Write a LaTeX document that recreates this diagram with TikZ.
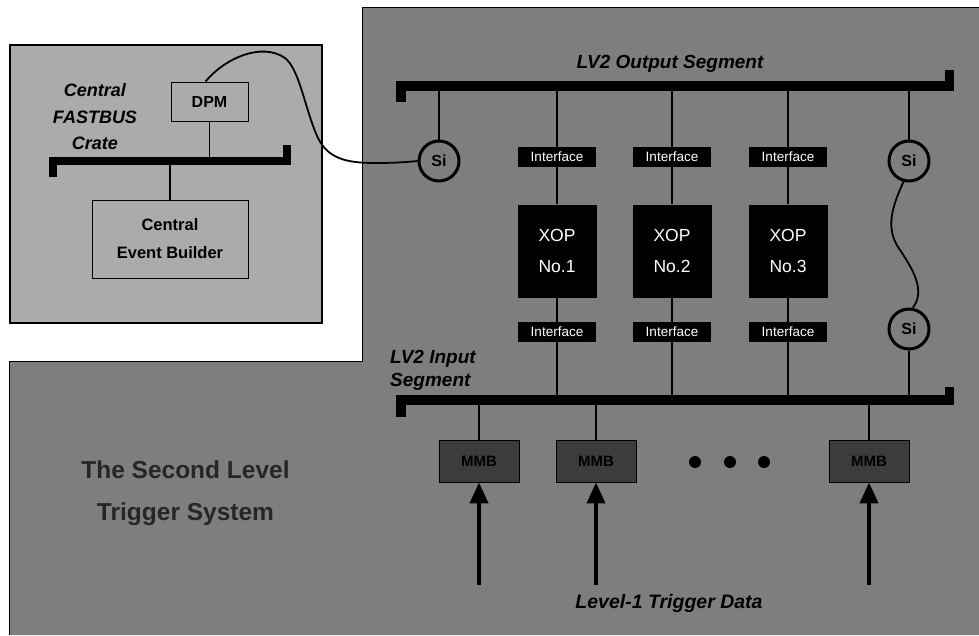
\documentclass[tikz,border=0pt]{standalone}
\usepackage{fontspec}
\setmainfont{Liberation Sans}
\usetikzlibrary{arrows.meta,calc}
\definecolor{maingrey}{HTML}{7E7E7E}
\definecolor{insetgrey}{HTML}{ABABAB}
\definecolor{mmbgrey}{HTML}{3C3C3C}
\begin{document}
\begin{tikzpicture}[x=1pt,y=-1pt,
  busbar/.style={line width=9.5pt, line join=miter},
  cbusbar/.style={line width=8pt, line join=miter},
  wire/.style={line width=1.8pt},
  ifbox/.style={fill=black, text=white, minimum width=78pt, minimum height=20pt, inner sep=0pt, font=\fontsize{13.5}{13.5}\selectfont},
  xopbox/.style={fill=black, text=white, minimum width=79pt, minimum height=93pt, inner sep=0pt, align=center, font=\fontsize{17.5}{31}\selectfont},
  sinode/.style={circle, draw=black, line width=3pt, minimum size=40pt, inner sep=0pt, font=\bfseries\fontsize{16}{16}\selectfont},
  mmbbox/.style={fill=mmbgrey, draw=black, line width=0.8pt, minimum width=80pt, minimum height=42pt, inner sep=0pt, font=\bfseries\fontsize{15}{15}\selectfont, text=black},
  inbox/.style={draw=black, line width=1pt, fill=insetgrey, inner sep=0pt, align=center},
  bigital/.style={font=\bfseries\itshape\fontsize{19}{25}\selectfont, text=black, inner sep=0pt},
  titletext/.style={font=\bfseries\fontsize{24.5}{42}\selectfont, text=black!85, align=center, inner sep=0pt},
  dotnode/.style={circle, fill=black, minimum size=12pt, inner sep=0pt},
  uparrow/.style={line width=4pt, -{Triangle[width=18pt,length=21pt]}}
]
\useasboundingbox (0,0) rectangle (979,635);
\fill[white] (0,0) rectangle (979,635);
% main grey region
\fill[maingrey] (362,7) -- (979,7) -- (979,635) -- (9,635) -- (9,361) -- (362,361) -- cycle;
\draw[line width=1pt] (979,7) -- (362,7) -- (362,361) -- (9,361) -- (9,635);
% inset
\filldraw[fill=insetgrey, draw=black, line width=1.5pt] (10,45) rectangle (322,323);
\node[bigital, font=\bfseries\itshape\fontsize{18}{26.5}\selectfont, align=center] (cfc) at (95,117) {Central\\FASTBUS\\Crate};
\coordinate (cbus) at (0,161);
\draw[cbusbar] (52.5,177) -- (52.5,161) -- (286.5,161) -- (286.5,145);
\node[inbox, minimum width=77pt, minimum height=39pt, font=\bfseries\fontsize{16}{16}\selectfont] (dpm) at (209.5,101.5) {DPM};
\node[inbox, minimum width=156pt, minimum height=78pt, font=\bfseries\fontsize{16.5}{28}\selectfont] (ceb) at (170,239) {Central\\Event Builder};
\draw[wire] (dpm.south) -- (dpm.south |- cbus);
\draw[wire] (ceb.north) -- (ceb.north |- cbus);
% output and input segments
\coordinate (obus) at (0,86);
\coordinate (ibus) at (0,400);
\draw[busbar] (401,102) -- (401,86) -- (949.5,86) -- (949.5,70);
\draw[busbar] (401,417) -- (401,400) -- (949.5,400) -- (949.5,387);
\node[bigital] (outlbl) at (670,64) {LV2 Output Segment};
\node[bigital, font=\bfseries\itshape\fontsize{19}{23}\selectfont, align=left, anchor=west] (inlbl) at (390,370) {LV2 Input\\Segment};
% XOP columns
\foreach \i/\x in {1/557,2/672,3/788}{
  \node[ifbox] (ifo\i) at (\x,157) {Interface};
  \node[xopbox] (xop\i) at (\x,251) {XOP\\No.\i};
  \node[ifbox] (ifi\i) at (\x,332) {Interface};
  \draw[wire] (ifo\i.north |- obus) -- (ifo\i.north);
  \draw[wire] (ifo\i.south) -- (xop\i.north);
  \draw[wire] (xop\i.south) -- (ifi\i.north);
  \draw[wire] (ifi\i.south) -- (ifi\i.south |- ibus);
}
% Si nodes
\node[sinode] (si1) at (439,161) {Si};
\node[sinode] (si2) at (909,161) {Si};
\node[sinode] (si3) at (909,329) {Si};
\draw[wire] (si1.north |- obus) -- (si1.north);
\draw[wire] (si2.north |- obus) -- (si2.north);
\draw[wire] (si3.south) -- (si3.south |- ibus);
\draw[wire] (si2.-105) .. controls (893,205) and (884,228) .. (900,250) .. controls (915,272) and (925,292) .. (si3.80);
% cable from DPM to Si
\coordinate (dpmtop) at ([xshift=-4pt]dpm.north);
\draw[wire] (dpmtop) .. controls (225,58) and (262,42) .. (285,58) .. controls (300,70) and (305,110) .. (318,138) .. controls (328,158) and (345,163) .. (375,163) .. controls (395,163) and (408,162) .. (si1.west);
% MMBs
\node[mmbbox] (mmb1) at (479,461) {MMB};
\node[mmbbox] (mmb2) at (596,461) {MMB};
\node[mmbbox] (mmb3) at (869,461) {MMB};
\node[dotnode] (d1) at (695,462) {};
\node[dotnode] (d2) at (730,462) {};
\node[dotnode] (d3) at (764,462) {};
\foreach \i in {1,2,3}{
  \draw[wire] (mmb\i.north) -- (mmb\i.north |- ibus);
}
\coordinate (a1) at (479,585);
\coordinate (a2) at (596,585);
\coordinate (a3) at (869,585);
\draw[uparrow] (a1) -- (mmb1.south);
\draw[uparrow] (a2) -- (mmb2.south);
\draw[uparrow] (a3) -- (mmb3.south);
\node[bigital, font=\bfseries\itshape\fontsize{19.5}{24}\selectfont] (l1lbl) at (669,603) {Level-1 Trigger Data};
% title
\node[titletext] (title) at (185.5,493) {The Second Level\\Trigger System};
\end{tikzpicture}
\end{document}
